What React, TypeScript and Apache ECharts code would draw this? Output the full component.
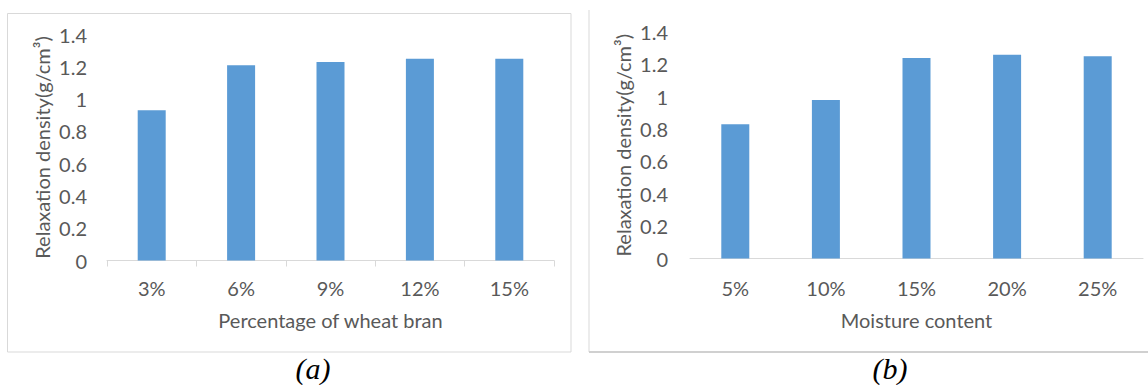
import React, { useEffect, useRef } from "react";
import * as echarts from "echarts";

const categoriesA = ["3%", "6%", "9%", "12%", "15%"];
const valuesA = [0.93, 1.21, 1.23, 1.25, 1.25];
const categoriesB = ["5%", "10%", "15%", "20%", "25%"];
const valuesB = [0.83, 0.98, 1.24, 1.26, 1.25];
const xNameA = "Percentage of wheat bran";
const xNameB = "Moisture content";
const yName = "Relaxation density(g/cm³)";
const captionA = "(a)";
const captionB = "(b)";

const FONT = "Lato";
const FS = 20;
const GRAY = "#595959";
const LINE = "#d9d9d9";
const BAR = "#5b9bd5";

export default function App() {
  const ref = useRef<HTMLDivElement>(null);
  useEffect(() => {
    if (!ref.current) return;
    const chart = echarts.init(ref.current, undefined, { renderer: "svg" });
    const xAxisCommon = (idx: number, cats: string[], name: string, gap: number, margin: number, ticks: boolean) => ({
      type: "category",
      gridIndex: idx,
      data: cats,
      name,
      nameLocation: "middle",
      nameGap: gap,
      nameTextStyle: { fontFamily: FONT, fontSize: FS, color: GRAY },
      axisLine: { lineStyle: { color: LINE, width: 1 } },
      axisTick: { show: ticks, length: 6, lineStyle: { color: LINE } },
      axisLabel: { margin, fontFamily: FONT, fontSize: FS, color: GRAY },
      splitLine: { show: false },
    });
    const yAxisCommon = (idx: number, gap: number, margin: number) => ({
      type: "value",
      gridIndex: idx,
      min: 0,
      max: 1.4,
      interval: 0.2,
      name: yName,
      nameLocation: "middle",
      nameRotate: 90,
      nameGap: gap,
      nameTextStyle: { fontFamily: FONT, fontSize: FS, color: GRAY },
      axisLine: { show: false },
      axisTick: { show: false },
      splitLine: { show: false },
      axisLabel: { margin, fontFamily: FONT, fontSize: FS, color: GRAY },
    });
    chart.setOption({
      animation: false,
      backgroundColor: "#ffffff",
      grid: [
        { left: 107, top: 34.5, width: 447, height: 226 },
        { left: 690, top: 32, width: 453, height: 226.5 },
      ],
      xAxis: [
        xAxisCommon(0, categoriesA, xNameA, 49, 17, true),
        xAxisCommon(1, categoriesB, xNameB, 51, 19, false),
      ],
      yAxis: [yAxisCommon(0, 55, 20), yAxisCommon(1, 57, 22)],
      series: [
        { type: "bar", xAxisIndex: 0, yAxisIndex: 0, data: valuesA, barWidth: 28, itemStyle: { color: BAR } },
        { type: "bar", xAxisIndex: 1, yAxisIndex: 1, data: valuesB, barWidth: 28, itemStyle: { color: BAR } },
      ],
      graphic: [
        {
          type: "rect",
          shape: { x: 7.5, y: 13.5, width: 563.5, height: 338.5 },
          style: { fill: "none", stroke: LINE, lineWidth: 1 },
          silent: true,
        },
        {
          type: "line",
          shape: { x1: 589, y1: 10, x2: 589, y2: 352 },
          style: { stroke: LINE, lineWidth: 1 },
          silent: true,
        },
        {
          type: "line",
          shape: { x1: 589, y1: 352, x2: 1148, y2: 352 },
          style: { stroke: "#d0d0d0", lineWidth: 2 },
          silent: true,
        },
        {
          type: "text",
          x: 313,
          y: 368,
          style: {
            text: captionA,
            fontFamily: "Liberation Serif",
            fontStyle: "italic",
            fontSize: 30,
            fill: "#000",
            align: "center",
            verticalAlign: "middle",
          },
        },
        {
          type: "text",
          x: 890,
          y: 368,
          style: {
            text: captionB,
            fontFamily: "Liberation Serif",
            fontStyle: "italic",
            fontSize: 30,
            fill: "#000",
            align: "center",
            verticalAlign: "middle",
          },
        },
      ],
    });
    return () => chart.dispose();
  }, []);
  return (
    <div
      ref={ref}
      style={{ position: "fixed", left: 0, top: 0, width: 1148, height: 385, background: "#fff" }}
    />
  );
}
